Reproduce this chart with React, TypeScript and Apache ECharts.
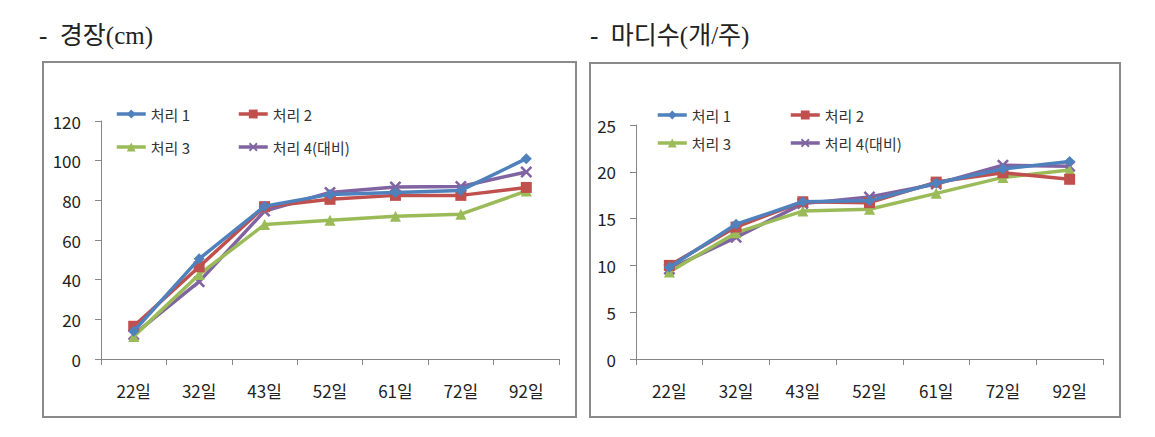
import React, { useEffect, useRef } from "react";
import * as echarts from "echarts";

const categories = ["22일", "32일", "43일", "52일", "61일", "72일", "92일"];
const seriesNames = ["처리 1", "처리 2", "처리 3", "처리 4(대비)"];

// 경장(cm)
const lenS1 = [14, 50.5, 77, 83, 84, 85, 101];
const lenS2 = [16.5, 46.5, 76.8, 80.5, 82.5, 82.5, 86.5];
const lenS3 = [11.4, 42.6, 67.8, 70, 72, 73, 84.7];
const lenS4 = [12.3, 39, 74.6, 84, 86.7, 87, 94.3];

// 마디수(개/주)
const nodeS1 = [9.8, 14.4, 16.8, 16.9, 18.8, 20.3, 21.1];
const nodeS2 = [10.0, 14.1, 16.8, 16.7, 18.9, 19.9, 19.2];
const nodeS3 = [9.3, 13.5, 15.8, 16.0, 17.7, 19.4, 20.2];
const nodeS4 = [9.6, 13.0, 16.6, 17.3, 18.7, 20.7, 20.6];

const titleLeft = "-  경장(cm)";
const titleRight = "-  마디수(개/주)";

const colors = ["#4F81BD", "#C0504D", "#9BBB59", "#8064A2"];
const xSymbol =
  "path://M0,1.5L1.5,0L5,3.5L8.5,0L10,1.5L6.5,5L10,8.5L8.5,10L5,6.5L1.5,10L0,8.5L3.5,5Z";
const symbols = ["diamond", "rect", "triangle", xSymbol];
const symbolSizes = [11, 11, 11, 12];

const FONT = "'Noto Sans CJK KR', 'Noto Sans', sans-serif";
const TITLE_FONT = "'Liberation Serif', 'Noto Sans CJK KR', serif";

export default function App() {
  const ref = useRef<HTMLDivElement>(null);
  useEffect(() => {
    if (!ref.current) return;
    const chart = echarts.init(ref.current, undefined, { renderer: "svg" });

    const axisLine = { show: true, lineStyle: { color: "#868686", width: 1 } };
    const mkX = (gridIndex: number) => ({
      type: "category",
      gridIndex,
      data: categories,
      boundaryGap: true,
      axisLine,
      axisTick: { show: true, inside: false, length: 6, alignWithLabel: false, lineStyle: { color: "#868686" } },
      axisLabel: { color: "#222", fontSize: 17, fontFamily: FONT, margin: 23, interval: 0 },
      splitLine: { show: false },
    });
    const mkY = (gridIndex: number, max: number, interval: number) => ({
      type: "value",
      gridIndex,
      min: 0,
      max,
      interval,
      axisLine,
      axisTick: { show: true, inside: false, length: 6, lineStyle: { color: "#868686" } },
      axisLabel: { color: "#222", fontSize: 17, fontFamily: FONT, margin: 20 },
      splitLine: { show: false },
    });

    const leftData = [lenS1, lenS2, lenS3, lenS4];
    const rightData = [nodeS1, nodeS2, nodeS3, nodeS4];
    const series: any[] = [];
    [leftData, rightData].forEach((set, gi) => {
      set.forEach((d, i) => {
        series.push({
          type: "line",
          name: seriesNames[i],
          xAxisIndex: gi,
          yAxisIndex: gi,
          data: d,
          symbol: symbols[i],
          symbolSize: symbolSizes[i],
          showAllSymbol: true,
          lineStyle: { color: colors[i], width: 3.5 },
          itemStyle: { color: colors[i], borderColor: colors[i], borderWidth: 0 },
          emphasis: { disabled: true },
          z: 10 - i,
        });
      });
    });

    const mkLegend = (name: string, left: number, cy: number) => ({
      show: true,
      data: [name],
      left,
      top: cy - 9,
      padding: 0,
      itemWidth: 29,
      itemHeight: 11,
      selectedMode: false,
      lineStyle: { width: 3.5 },
      textStyle: { color: "#333", fontSize: 15, fontFamily: FONT, lineHeight: 18 },
    });

    chart.setOption({
      animation: false,
      backgroundColor: "#ffffff",
      grid: [
        { left: 101, top: 121, width: 458, height: 238 },
        { left: 636, top: 125, width: 467, height: 234 },
      ],
      xAxis: [mkX(0), mkX(1)],
      yAxis: [mkY(0, 120, 20), mkY(1, 25, 5)],
      legend: [
        mkLegend(seriesNames[0], 115, 114),
        mkLegend(seriesNames[1], 237, 114),
        mkLegend(seriesNames[2], 115, 147),
        mkLegend(seriesNames[3], 237, 147),
        mkLegend(seriesNames[0], 656, 115),
        mkLegend(seriesNames[1], 789, 115),
        mkLegend(seriesNames[2], 656, 143),
        mkLegend(seriesNames[3], 789, 143),
      ],
      graphic: [
        {
          type: "rect",
          shape: { x: 43, y: 62, width: 533, height: 355 },
          style: { fill: "none", stroke: "#8a8a8a", lineWidth: 2 },
          silent: true,
        },
        {
          type: "rect",
          shape: { x: 590, y: 63, width: 530, height: 354 },
          style: { fill: "none", stroke: "#8a8a8a", lineWidth: 2 },
          silent: true,
        },
        {
          type: "text",
          x: 39,
          y: 35,
          style: {
            text: titleLeft,
            fill: "#222",
            fontSize: 25,
            fontFamily: TITLE_FONT,
            verticalAlign: "middle",
            align: "left",
          },
        },
        {
          type: "text",
          x: 590,
          y: 35,
          style: {
            text: titleRight,
            fill: "#222",
            fontSize: 25,
            fontFamily: TITLE_FONT,
            verticalAlign: "middle",
            align: "left",
          },
        },
      ],
      series,
    });
    return () => chart.dispose();
  }, []);
  return (
    <div
      ref={ref}
      style={{ position: "fixed", left: 0, top: 0, width: 1155, height: 437, background: "#fff" }}
    />
  );
}
